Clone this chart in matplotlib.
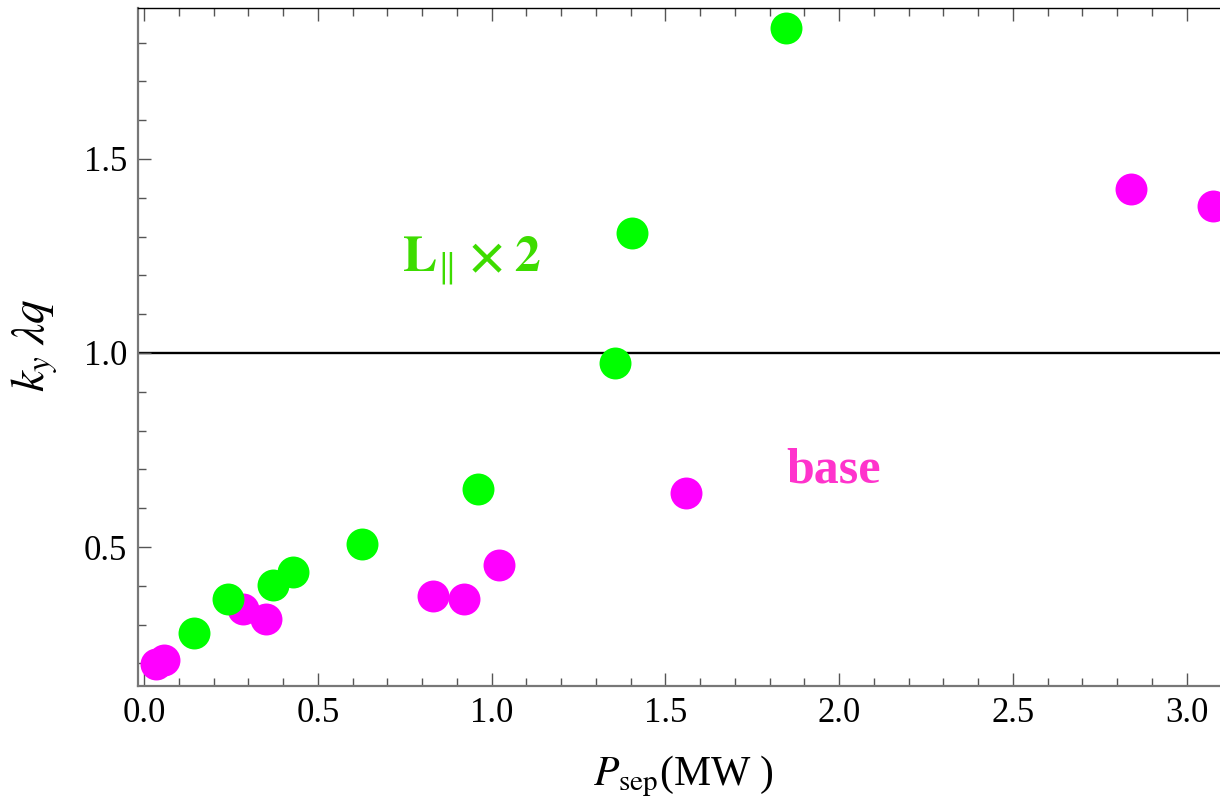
import matplotlib
matplotlib.use('Agg')
import matplotlib.pyplot as plt
from matplotlib.ticker import MultipleLocator

# data
base_p = [0.035, 0.057, 0.284, 0.351, 0.833, 0.921, 1.021, 1.560, 2.840, 3.076]
base_k = [0.198, 0.208, 0.339, 0.314, 0.374, 0.366, 0.454, 0.639, 1.423, 1.380]
lpar_p = [0.145, 0.243, 0.371, 0.429, 0.626, 0.961, 1.355, 1.404, 1.847]
lpar_k = [0.278, 0.366, 0.402, 0.436, 0.507, 0.649, 0.974, 1.309, 1.838]
ref_level = 1.0

plt.rcParams['font.family'] = ['Liberation Serif', 'DejaVu Serif']
plt.rcParams['mathtext.fontset'] = 'stix'

fig = plt.figure(figsize=(12.2, 8.07), dpi=100)
ax = fig.add_axes([138 / 1220, 1 - 686 / 807, 1 - 138 / 1220, (686 - 8) / 807])

ax.axhline(ref_level, color='black', lw=1.7, zorder=1)
ax.plot(base_p, base_k, 'o', color='#ff00ff', ms=23, mec='none', zorder=2)
ax.plot(lpar_p, lpar_k, 'o', color='#00ff00', ms=23, mec='none', zorder=3)

ax.text(0.742, 1.209, r'$\mathbf{L}_{\Vert}\;\mathbf{\times\;2}$', color='#3ddc00',
        fontsize=37, fontweight='bold')
ax.text(1.847, 0.665, 'base', color='#ff33cc', fontsize=36, fontweight='bold')

ax.set_xlim(-0.0173, 3.0964)
ax.set_ylim(0.1418, 1.889)

ax.xaxis.set_major_locator(MultipleLocator(0.5))
ax.xaxis.set_minor_locator(MultipleLocator(0.1))
ax.yaxis.set_major_locator(MultipleLocator(0.5))
ax.yaxis.set_minor_locator(MultipleLocator(0.1))
ax.xaxis.set_major_formatter(lambda v, p: f'{v:.1f}')
ax.yaxis.set_major_formatter(lambda v, p: f'{v:.1f}')

ax.tick_params(which='both', direction='in', top=True, right=False, color='#555555',
               labelsize=25, width=1.0)
ax.tick_params(which='major', length=9.5, pad=8)
ax.tick_params(which='minor', length=5.5)

for side in ['left', 'bottom']:
    ax.spines[side].set_color('#777777')
    ax.spines[side].set_linewidth(1.6)
ax.spines['top'].set_color('black')
ax.spines['top'].set_linewidth(1.0)
ax.spines['right'].set_visible(False)

ax.set_xlabel(r'$P_{\mathrm{sep}}$(MW )', fontsize=30)
ax.set_ylabel(r'$k_y\;\lambda q$', fontsize=34)
ax.xaxis.set_label_coords(0.504, -0.1)
ax.yaxis.set_label_coords(-0.072, 0.503)

fig.savefig('out.png', dpi=100, facecolor='white')
plt.close(fig)
